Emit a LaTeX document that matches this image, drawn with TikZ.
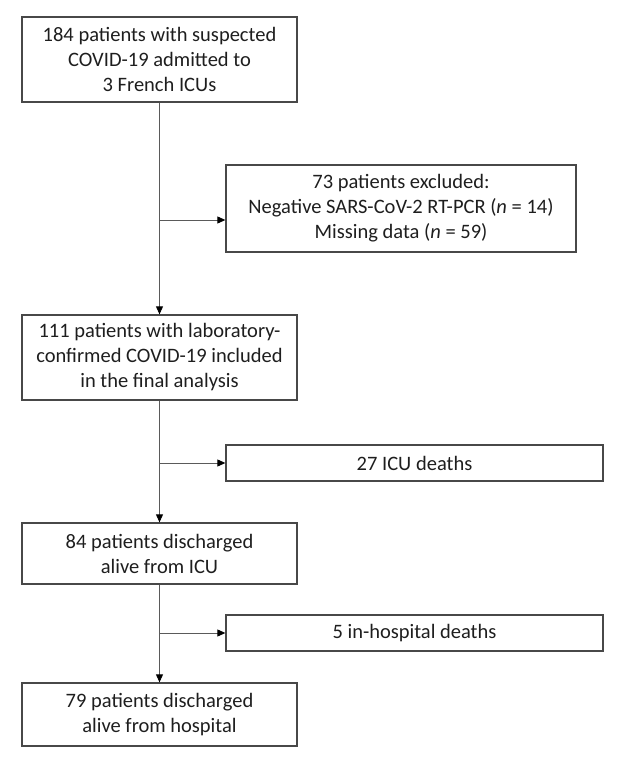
\documentclass[tikz,border=0pt]{standalone}
\usepackage{fontspec}
\setmainfont{Carlito}
\usetikzlibrary{arrows.meta}
\definecolor{boxgray}{HTML}{484848}
\definecolor{linegray}{HTML}{5A5A5A}
\definecolor{textgray}{HTML}{1E1E1E}
\tikzset{
  flowbox/.style={draw=boxgray, line width=1.3pt, rectangle, inner sep=0pt, align=center,
    text=textgray, font=\fontsize{20.5}{25}\selectfont},
  flowline/.style={draw=linegray, line width=0.9pt, -{Triangle[length=8pt,width=7pt,color=black]}}
}
\begin{document}
\begin{tikzpicture}[x=1pt,y=-1pt]
\useasboundingbox (0,0) rectangle (620,757);
% main column
\node[flowbox, minimum width=275pt, minimum height=85pt] (screened) at (159.5,59.5) {184 patients with suspected\\COVID-19 admitted to\\3 French ICUs};
\node[flowbox, minimum width=275pt, minimum height=85pt] (included) at (159.5,357.5) {111 patients with laboratory-\\confirmed COVID-19 included\\in the final analysis};
\node[flowbox, minimum width=275pt, minimum height=61pt] (dischicu) at (159.5,553.5) {84 patients discharged\\alive from ICU};
\node[flowbox, minimum width=275pt, minimum height=63pt] (dischhosp) at (159.5,714.5) {79 patients discharged\\alive from hospital};
% side boxes
\node[flowbox, minimum width=350pt, minimum height=87pt] (excluded) at (401,208.5) {73 patients excluded:\\Negative SARS-CoV-2 RT-PCR (\textit{n} = 14)\\Missing data (\textit{n} = 59)};
\node[flowbox, minimum width=377pt, minimum height=36pt] (icudeaths) at (414.5,463) {27 ICU deaths};
\node[flowbox, minimum width=377pt, minimum height=36pt] (hospdeaths) at (414.5,633) {5 in-hospital deaths};
% branch points
\coordinate (br1) at (159.5,220);
\coordinate (br2) at (159.5,463);
\coordinate (br3) at (159.5,633);
% connectors
\draw[flowline] (screened) -- (included);
\draw[flowline] (included) -- (dischicu);
\draw[flowline] (dischicu) -- (dischhosp);
\draw[flowline] (br1) -- (br1 -| excluded.west);
\draw[flowline] (br2) -- (icudeaths);
\draw[flowline] (br3) -- (hospdeaths);
\end{tikzpicture}
\end{document}
